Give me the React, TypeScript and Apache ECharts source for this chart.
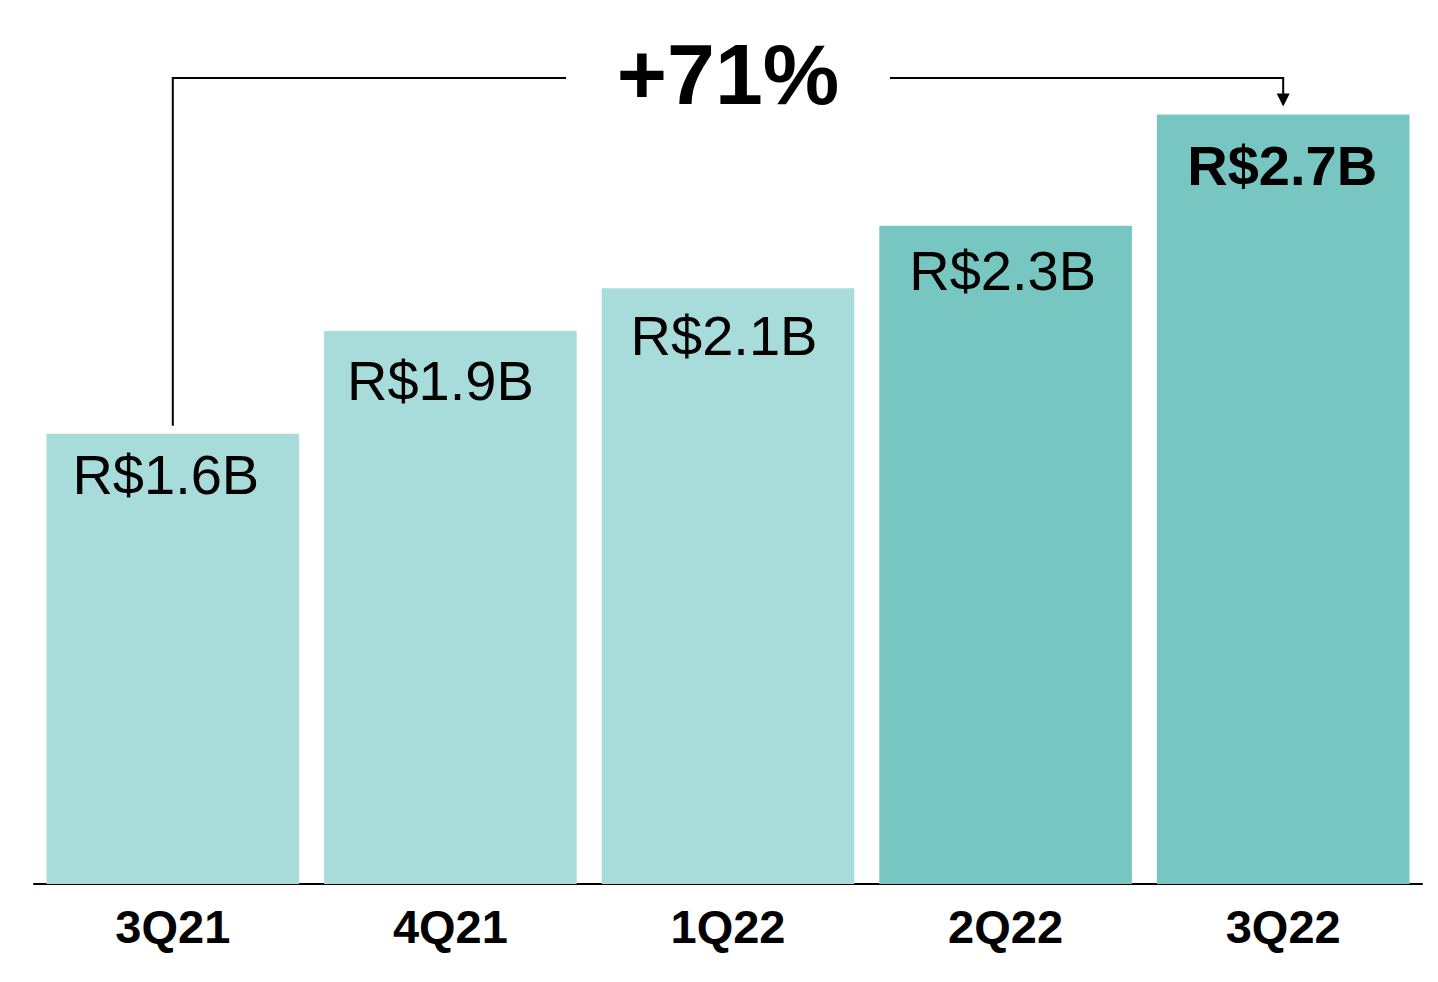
import React, { useEffect, useRef } from "react";
import * as echarts from "echarts";

const categories = ["3Q21", "4Q21", "1Q22", "2Q22", "3Q22"];
const values = [1.58, 1.94, 2.09, 2.31, 2.7];
const valueLabels = ["R$1.6B", "R$1.9B", "R$2.1B", "R$2.3B", "R$2.7B"];
const barColors = ["#A8DCDA", "#A8DCDA", "#A8DCDA", "#78C6C2", "#78C6C2"];
const boldLabel = [false, false, false, false, true];
const growthText = "+71%";

// label nudges (style only)
const labelOffsets = [
  [-7, -4],
  [-10, 4],
  [-4, 2],
  [-3, 0],
  [-1, 6],
];

const FONT = "'Liberation Sans', Arial, sans-serif";

export default function App() {
  const ref = useRef<HTMLDivElement>(null);
  useEffect(() => {
    if (!ref.current) return;
    const chart = echarts.init(ref.current, null, { renderer: "svg" });
    chart.setOption({
      animation: false,
      grid: { left: 34, right: 16, top: 29, bottom: 98, containLabel: false },
      xAxis: {
        type: "category",
        data: categories,
        axisLine: { show: true, lineStyle: { color: "#000", width: 2 } },
        axisTick: { show: false },
        axisLabel: {
          color: "#000",
          fontFamily: FONT,
          fontWeight: "bold",
          fontSize: 47,
          margin: 19,
        },
      },
      yAxis: {
        type: "value",
        min: 0,
        max: 3,
        show: false,
        splitLine: { show: false },
      },
      series: [
        {
          type: "bar",
          barCategoryGap: "9%",
          data: values.map((v, i) => ({
            value: v,
            itemStyle: { color: barColors[i] },
            label: {
              show: true,
              position: "insideTop",
              distance: 17,
              offset: labelOffsets[i],
              formatter: valueLabels[i],
              color: "#000",
              fontFamily: FONT,
              fontSize: 56,
              fontWeight: boldLabel[i] ? "bold" : "normal",
            },
          })),
        },
      ],
    });

    const first = chart.convertToPixel({ gridIndex: 0 }, [0, values[0]]) as number[];
    const lastIdx = values.length - 1;
    const last = chart.convertToPixel({ gridIndex: 0 }, [lastIdx, values[lastIdx]]) as number[];
    const lineY = 78;
    const textCx = 728;
    const gapHalf = 162;
    const lineStyle = { stroke: "#000", lineWidth: 2, fill: "none" };
    chart.setOption({
      graphic: [
        {
          type: "polyline",
          shape: {
            points: [
              [first[0], first[1] - 8],
              [first[0], lineY],
              [textCx - gapHalf, lineY],
            ],
          },
          style: lineStyle,
        },
        {
          type: "polyline",
          shape: {
            points: [
              [textCx + gapHalf, lineY],
              [last[0], lineY],
              [last[0], last[1] - 20],
            ],
          },
          style: lineStyle,
        },
        {
          type: "polygon",
          shape: {
            points: [
              [last[0] - 6.5, last[1] - 21],
              [last[0] + 6.5, last[1] - 21],
              [last[0], last[1] - 8],
            ],
          },
          style: { fill: "#000" },
        },
        {
          type: "text",
          x: textCx,
          y: 117,
          style: {
            text: growthText,
            fill: "#000",
            font: `bold 86px ${FONT}`,
            textAlign: "center",
            textVerticalAlign: "bottom",
          },
        },
      ],
    });
    return () => chart.dispose();
  }, []);
  return <div ref={ref} style={{ width: 1438, height: 982, margin: -8 }} />;
}
